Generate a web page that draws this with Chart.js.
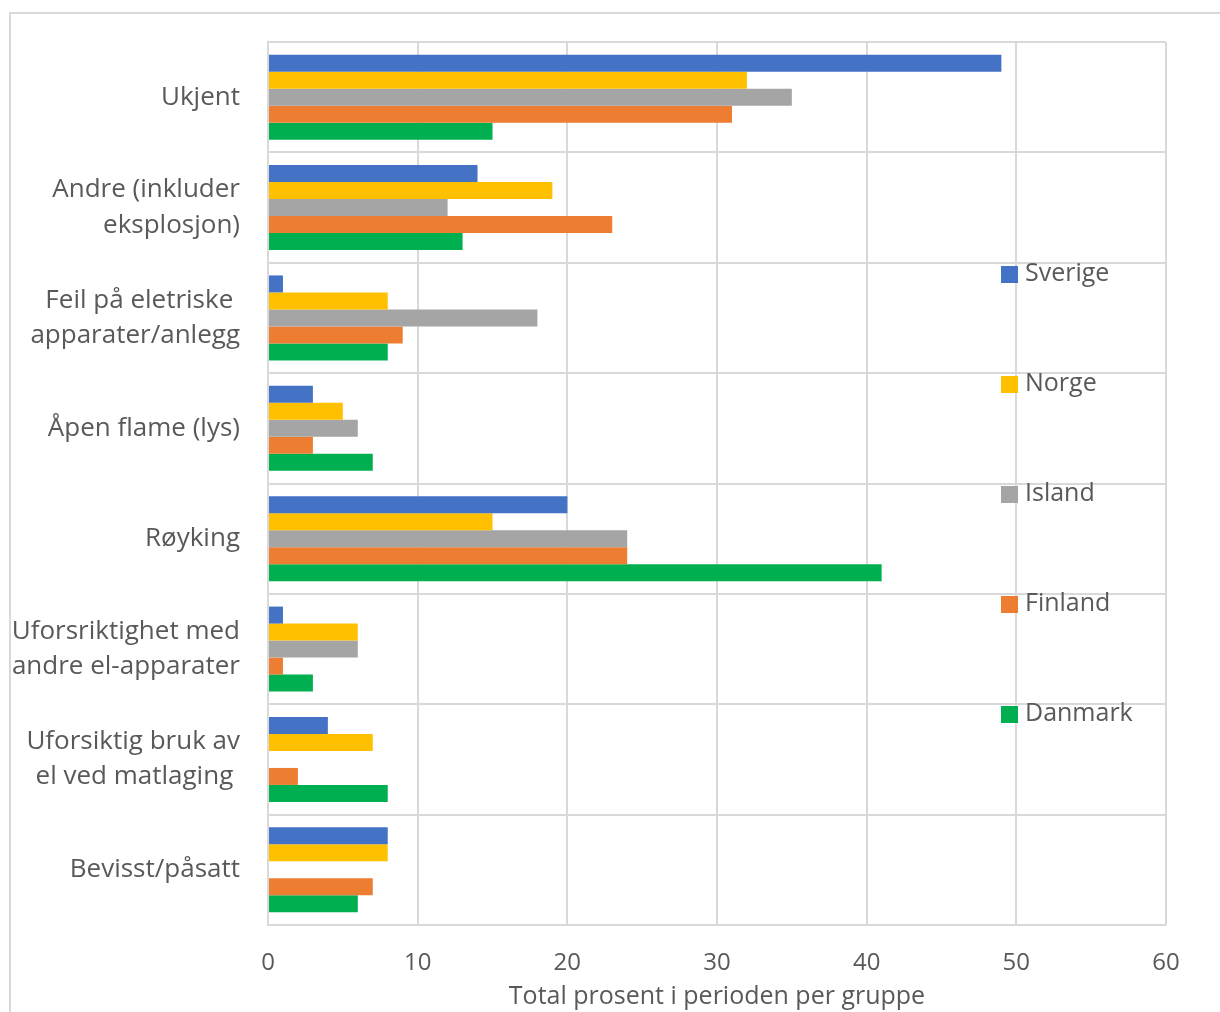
<!DOCTYPE html>
<html lang="no">
<head>
    <meta charset="UTF-8">
    <title>Brannårsaker</title>
    <script src="https://cdn.jsdelivr.net/npm/chart.js@4/dist/chart.umd.min.js"></script>
    <style>
        html, body { margin: 0; padding: 0; background: #fff; overflow: hidden; }
        #wrap { width: 1220px; height: 1012px; position: relative; }
    </style>
</head>
<body>
    <div id="wrap"><canvas id="arsakChart" width="1220" height="1012"></canvas></div>
    <script>
        const categories = [
            'Ukjent',
            ['Andre (inkluder', 'eksplosjon)'],
            ['Feil på eletriske ', 'apparater/anlegg'],
            'Åpen flame (lys)',
            'Røyking',
            ['Uforsriktighet med', 'andre el-apparater'],
            ['Uforsiktig bruk av', 'el ved matlaging '],
            'Bevisst/påsatt'
        ];
        const sverige = [49, 14, 1, 3, 20, 1, 4, 8];
        const norge   = [32, 19, 8, 5, 15, 6, 7, 8];
        const island  = [35, 12, 18, 6, 24, 6, 0, 0];
        const finland = [31, 23, 9, 3, 24, 1, 2, 7];
        const danmark = [15, 13, 8, 7, 41, 3, 8, 6];
        const xTicks = [0, 10, 20, 30, 40, 50, 60];

        const textColor = '#595959';
        const gridColor = '#d9d9d9';
        Chart.defaults.font.family = '"Open Sans", sans-serif';
        Chart.defaults.color = textColor;

        function serie(label, data, color) {
            return { label: label, data: data, backgroundColor: color, borderWidth: 0 };
        }

        // ramme rundt hele figuren + egen forklaring til høyre
        const extras = {
            id: 'extras',
            beforeDraw(chart) {
                const ctx = chart.ctx;
                ctx.save();
                ctx.strokeStyle = gridColor;
                ctx.lineWidth = 2;
                ctx.strokeRect(10, 13, 1400, 1200);
                ctx.restore();
            },
            afterDraw(chart) {
                const ctx = chart.ctx;
                ctx.save();
                ctx.font = '25px "Open Sans", sans-serif';
                ctx.textBaseline = 'middle';
                chart.data.datasets.forEach((ds, i) => {
                    const y = 274 + i * 110;
                    ctx.fillStyle = ds.backgroundColor;
                    ctx.fillRect(1001, y - 8, 17, 17);
                    ctx.fillStyle = textColor;
                    ctx.fillText(ds.label, 1025, y);
                });
                ctx.restore();
            }
        };

        new Chart(document.getElementById('arsakChart'), {
            type: 'bar',
            data: {
                labels: categories,
                datasets: [
                    serie('Sverige', sverige, '#4472c4'),
                    serie('Norge', norge, '#ffc000'),
                    serie('Island', island, '#a5a5a5'),
                    serie('Finland', finland, '#ed7d31'),
                    serie('Danmark', danmark, '#00b050')
                ]
            },
            options: {
                indexAxis: 'y',
                responsive: false,
                animation: false,
                layout: { padding: { top: 42, right: 54, left: 0, bottom: 0 } },
                datasets: { bar: { barPercentage: 1, categoryPercentage: 0.77 } },
                plugins: { legend: { display: false }, tooltip: { enabled: false } },
                scales: {
                    x: {
                        min: 0, max: 60,
                        afterBuildTicks: s => { s.ticks = xTicks.map(v => ({ value: v })); },
                        afterFit: s => { s.height = 87; },
                        grid: { color: gridColor, lineWidth: 2, drawTicks: false },
                        border: { display: false },
                        ticks: { padding: 24, font: { size: 24 }, color: textColor },
                        title: {
                            display: true,
                            text: 'Total prosent i perioden per gruppe',
                            font: { size: 25 }, color: textColor, padding: { top: 2, bottom: 0 }
                        }
                    },
                    y: {
                        afterFit: s => { s.width = 268; s.paddingTop = 0; s.paddingBottom = 0; },
                        grid: { color: gridColor, lineWidth: 2, drawTicks: false, offset: true },
                        border: { display: true, color: gridColor, width: 2 },
                        ticks: { padding: 28, font: { size: 26, lineHeight: 1.35 }, color: textColor }
                    }
                }
            },
            plugins: [extras]
        });
    </script>
</body>
</html>
